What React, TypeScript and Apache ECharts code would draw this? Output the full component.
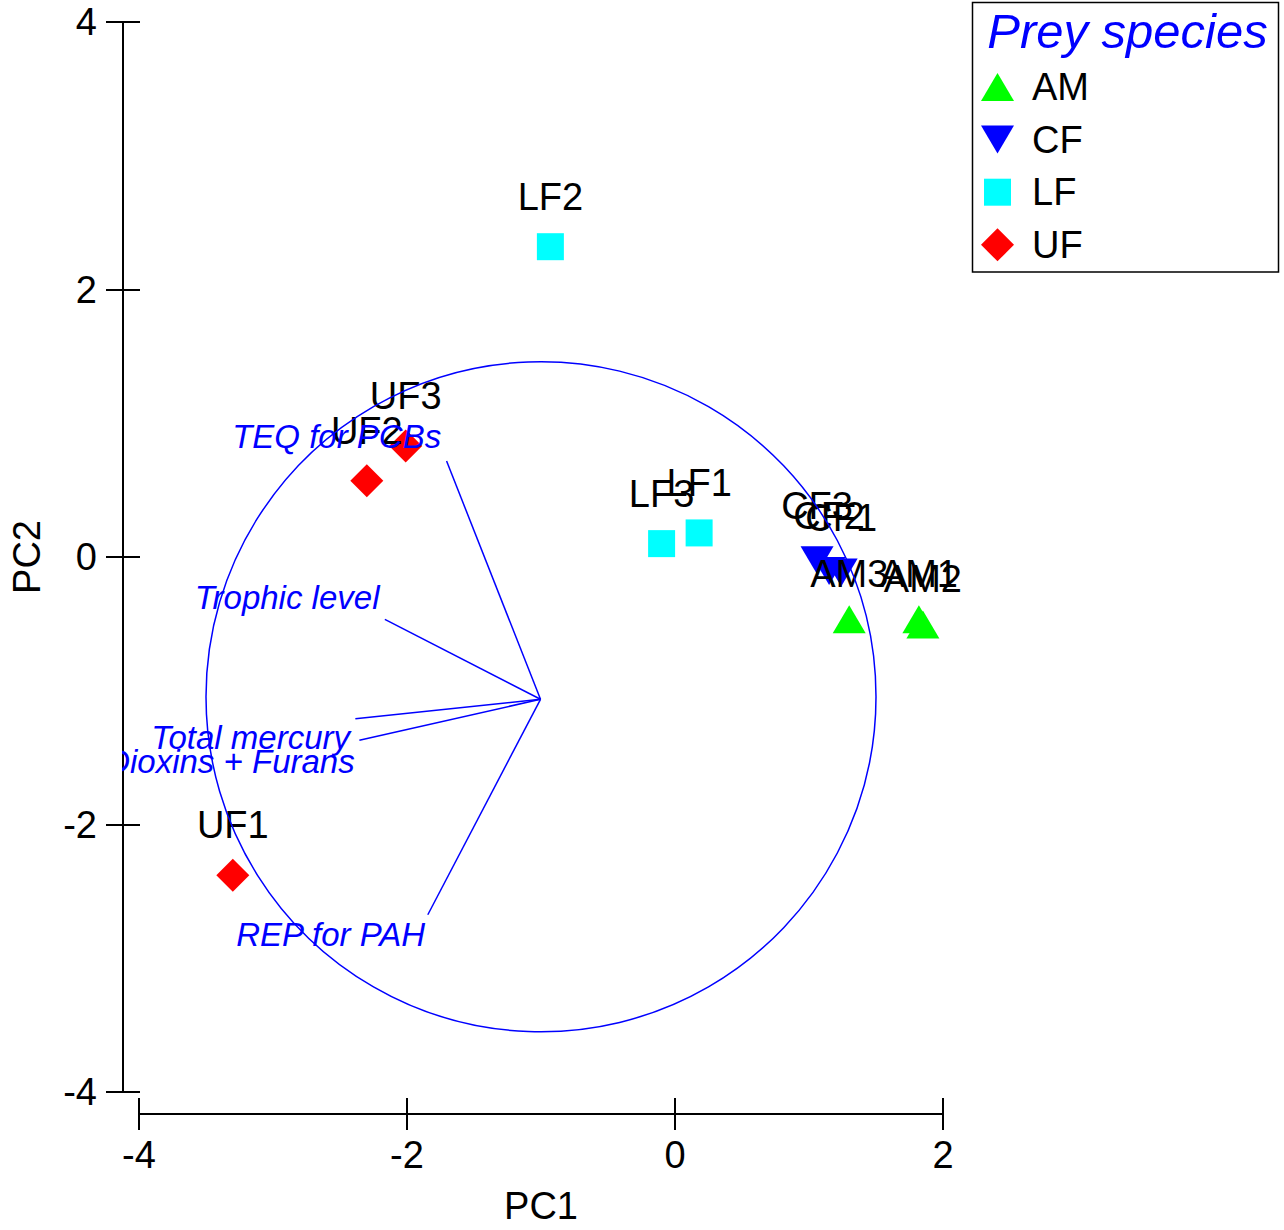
import React, { useEffect, useRef } from 'react';
import * as echarts from 'echarts';

const FONT = '"Liberation Sans", Arial, Helvetica, sans-serif';

// Axis ranges
const PC1_MIN = -4;
const PC1_MAX = 2;
const PC2_MIN = -4;
const PC2_MAX = 4;
const TICK_STEP = 2;

// Sample scores (PC1, PC2)
const AM_LABELS = ['AM1', 'AM2', 'AM3'];
const AM_PC1 = [1.82, 1.85, 1.3];
const AM_PC2 = [-0.5, -0.54, -0.5];

const CF_LABELS = ['CF1', 'CF2', 'CF3'];
const CF_PC1 = [1.24, 1.15, 1.06];
const CF_PC2 = [-0.08, -0.07, 0.01];

const LF_LABELS = ['LF1', 'LF2', 'LF3'];
const LF_PC1 = [0.18, -0.93, -0.1];
const LF_PC2 = [0.18, 2.32, 0.1];

const UF_LABELS = ['UF1', 'UF2', 'UF3'];
const UF_PC1 = [-3.3, -2.3, -2.01];
const UF_PC2 = [-2.38, 0.57, 0.83];

// Variable vectors (loadings) drawn from the circle centre
const VAR_LABELS = ['TEQ for PCBs', 'Trophic level', 'Dioxins + Furans', 'Total mercury', 'REP for PAH'];
const VAR_PC1 = [-1.7, -2.16, -2.38, -2.35, -1.84];
const VAR_PC2 = [0.73, -0.45, -1.19, -1.35, -2.65];
const VAR_TEXT_PC1 = [-1.74, -2.2, -2.385, -2.42, -1.86];
const VAR_TEXT_PC2 = [0.91, -0.29, -1.505, -1.33, -2.8];

// Correlation circle
const CIRCLE_CENTER = [-1.0, -1.045];
const CIRCLE_RADIUS = 2.5;

const GROUPS = ['AM', 'CF', 'LF', 'UF'];

const TRI_DOWN = 'path://M0,0L2,0L1,1.7Z';

// plot frame: the axes are drawn offset from the data area
const X_AXIS_OFFSET = 22;
const Y_AXIS_OFFSET = 16;
const GRID_LEFT = 138;
const GRID_WIDTH = 805;
const GRID_TOP = 22;
const GRID_HEIGHT = 1074;
// data range reaching the (offset) y-axis line, used to clip the vector labels there
const PC1_FRAME_MIN = PC1_MIN - (Y_AXIS_OFFSET * (PC1_MAX - PC1_MIN)) / GRID_WIDTH;

function buildPoints(xs: number[], ys: number[], labels: string[]) {
  return xs.map((x, i) => ({ value: [x, ys[i]], name: labels[i] }));
}

function scatter(name: string, data: any[], symbol: string, size: any, offY: number, color: string) {
  return {
    type: 'scatter',
    name,
    data,
    symbol,
    symbolSize: size,
    symbolOffset: [0, offY],
    symbolKeepAspect: false,
    itemStyle: { color, opacity: 1 },
    z: 2,
    label: {
      show: true,
      position: 'inside',
      formatter: '{b}',
      offset: [0, -50 - offY],
      fontSize: 38,
      fontFamily: FONT,
      color: '#000',
    },
    emphasis: { disabled: true },
  };
}

export default function App() {
  const ref = useRef<HTMLDivElement>(null);

  useEffect(() => {
    if (!ref.current) return;
    const chart = echarts.init(ref.current, null, { renderer: 'svg' });

    const axisLineStyle = { color: '#000', width: 2 };

    const xBase = {
      type: 'value',
      gridIndex: 0,
      min: PC1_MIN,
      max: PC1_MAX,
      interval: TICK_STEP,
      position: 'bottom',
      offset: X_AXIS_OFFSET,
      splitLine: { show: false },
    };
    const yBase = {
      type: 'value',
      gridIndex: 0,
      min: PC2_MIN,
      max: PC2_MAX,
      interval: TICK_STEP,
      position: 'left',
      offset: Y_AXIS_OFFSET,
      splitLine: { show: false },
    };
    const hidden = {
      axisLine: { show: false, onZero: false },
      axisTick: { show: false },
      axisLabel: { show: false },
      splitLine: { show: false },
    };

    const option: any = {
      animation: false,
      backgroundColor: '#fff',
      textStyle: { fontFamily: FONT },
      grid: [
        { left: GRID_LEFT, width: GRID_WIDTH, top: GRID_TOP, height: GRID_HEIGHT, containLabel: false },
        {
          left: GRID_LEFT - Y_AXIS_OFFSET,
          width: GRID_WIDTH + Y_AXIS_OFFSET,
          top: GRID_TOP,
          height: GRID_HEIGHT,
          containLabel: false,
        },
      ],
      xAxis: [
        {
          ...xBase,
          axisLine: { show: true, onZero: false, lineStyle: axisLineStyle },
          axisTick: { show: true, inside: false, length: 16, lineStyle: axisLineStyle },
          axisLabel: { fontSize: 38, color: '#000', fontFamily: FONT, margin: 22 },
          name: 'PC1',
          nameLocation: 'middle',
          nameGap: 73,
          nameTextStyle: { fontSize: 38, color: '#000', fontFamily: FONT },
        },
        {
          ...xBase,
          axisLine: { show: false, onZero: false },
          axisTick: { show: true, inside: true, length: 16, lineStyle: axisLineStyle },
          axisLabel: { show: false },
        },
        { type: 'value', gridIndex: 1, min: PC1_FRAME_MIN, max: PC1_MAX, ...hidden },
      ],
      yAxis: [
        {
          ...yBase,
          axisLine: { show: true, onZero: false, lineStyle: axisLineStyle },
          axisTick: { show: true, inside: false, length: 17, lineStyle: axisLineStyle },
          axisLabel: { fontSize: 38, color: '#000', fontFamily: FONT, margin: 26 },
          name: 'PC2',
          nameLocation: 'middle',
          nameGap: 77,
          nameRotate: 90,
          nameTextStyle: { fontSize: 38, color: '#000', fontFamily: FONT },
        },
        {
          ...yBase,
          axisLine: { show: false, onZero: false },
          axisTick: { show: true, inside: true, length: 17, lineStyle: axisLineStyle },
          axisLabel: { show: false },
        },
        { type: 'value', gridIndex: 1, min: PC2_MIN, max: PC2_MAX, ...hidden },
      ],
      legend: {
        orient: 'vertical',
        left: 981,
        top: 68,
        padding: 0,
        itemWidth: 46,
        itemHeight: 33,
        itemGap: 14.6,
        selectedMode: false,
        textStyle: { fontSize: 38, color: '#000', fontFamily: FONT },
        data: [
          { name: GROUPS[0], icon: 'path://M0,0M46,33M0,30.5L16.5,2.5L33,30.5Z' },
          { name: GROUPS[1], icon: 'path://M0,0M46,33M0,2.5L33,2.5L16.5,30.5Z' },
          { name: GROUPS[2], icon: 'path://M0,0M46,33M3,3L30,3L30,30L3,30Z' },
          { name: GROUPS[3], icon: 'path://M0,0M46,33M0,16.5L16.5,0L33,16.5L16.5,33Z' },
        ],
      },
      graphic: [
        {
          type: 'rect',
          shape: { x: 972.5, y: 2.5, width: 306, height: 269.5 },
          style: { fill: 'none', stroke: '#000', lineWidth: 1.5 },
          silent: true,
        },
        {
          type: 'text',
          x: 1127.5,
          y: 31,
          style: {
            text: 'Prey species',
            fill: '#0000ff',
            font: `italic 49px ${FONT}`,
            align: 'center',
            verticalAlign: 'middle',
          },
          silent: true,
        },
      ],
      series: [
        scatter(GROUPS[0], buildPoints(AM_PC1, AM_PC2, AM_LABELS), 'triangle', [33, 28], -4.7, '#00ff00'),
        scatter(GROUPS[1], buildPoints(CF_PC1, CF_PC2, CF_LABELS), TRI_DOWN, [33, 28], 4.7, '#0000ff'),
        scatter(GROUPS[2], buildPoints(LF_PC1, LF_PC2, LF_LABELS), 'rect', 27, 0, '#00ffff'),
        scatter(GROUPS[3], buildPoints(UF_PC1, UF_PC2, UF_LABELS), 'diamond', 33, 0, '#ff0000'),
        {
          type: 'custom',
          name: 'vectors',
          xAxisIndex: 2,
          yAxisIndex: 2,
          clip: true,
          z: 3,
          silent: true,
          data: VAR_PC1.map((x, i) => [x, VAR_PC2[i], VAR_TEXT_PC1[i], VAR_TEXT_PC2[i]]),
          encode: { x: 0, y: 1 },
          renderItem: (params: any, api: any) => {
            const i = params.dataIndex;
            const c = api.coord(CIRCLE_CENTER);
            const e = api.coord([api.value(0), api.value(1)]);
            const t = api.coord([api.value(2), api.value(3)]);
            return {
              type: 'group',
              children: [
                {
                  type: 'line',
                  shape: { x1: c[0], y1: c[1], x2: e[0], y2: e[1] },
                  style: { stroke: '#0000ff', lineWidth: 1.5 },
                },
                {
                  type: 'text',
                  x: t[0],
                  y: t[1],
                  style: {
                    text: VAR_LABELS[i],
                    fill: '#0000ff',
                    font: `italic 33px ${FONT}`,
                    align: 'right',
                    verticalAlign: 'middle',
                  },
                },
              ],
            };
          },
        },
        {
          type: 'custom',
          name: 'circle',
          z: 4,
          silent: true,
          data: [[CIRCLE_CENTER[0], CIRCLE_CENTER[1], CIRCLE_RADIUS]],
          encode: { x: 0, y: 1 },
          renderItem: (params: any, api: any) => {
            const c = api.coord([api.value(0), api.value(1)]);
            const r = api.size([api.value(2), 0])[0];
            return {
              type: 'circle',
              shape: { cx: c[0], cy: c[1], r },
              style: { fill: 'none', stroke: '#0000ff', lineWidth: 1.5 },
            };
          },
        },
      ],
    };

    chart.setOption(option);
    return () => {
      chart.dispose();
    };
  }, []);

  return (
    <div
      ref={ref}
      style={{ position: 'absolute', left: 0, top: 0, width: 1284, height: 1230, background: '#fff' }}
    />
  );
}
